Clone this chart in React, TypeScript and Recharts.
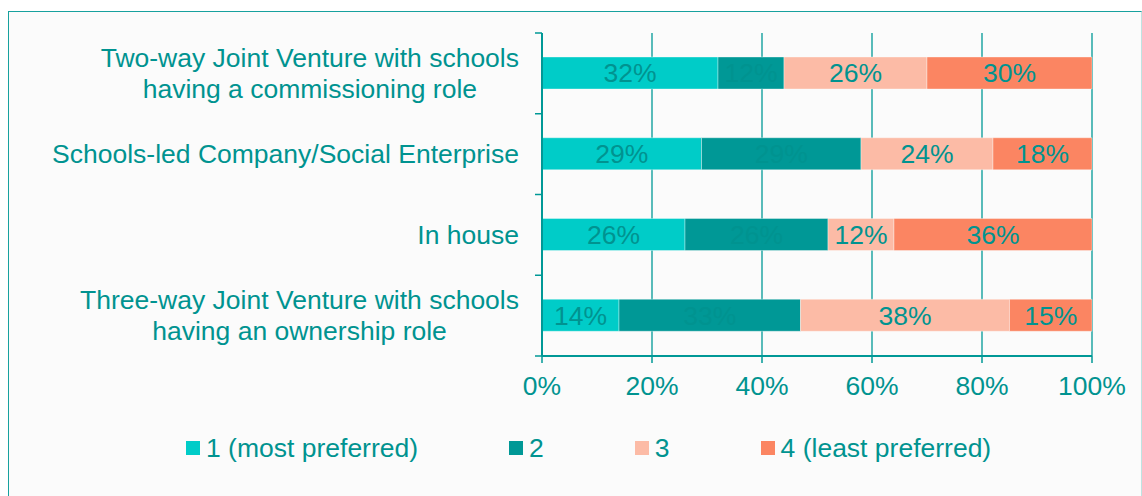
import React from "react";
import { BarChart, Bar, XAxis, YAxis, CartesianGrid, Legend, LabelList } from "recharts";

const categories = [
  "Two-way Joint Venture with schools\nhaving a commissioning role",
  "Schools-led Company/Social Enterprise",
  "In house",
  "Three-way Joint Venture with schools\nhaving an ownership role",
];
const rank1 = [32, 29, 26, 14];
const rank2 = [12, 29, 26, 33];
const rank3 = [26, 24, 12, 38];
const rank4 = [30, 18, 36, 15];
const seriesNames = ["1 (most preferred)", "2", "3", "4 (least preferred)"];
const xTicks = [0, 20, 40, 60, 80, 100];

const COLORS = ["#00ccc8", "#009896", "#fcbba6", "#fb8562"];
const TEAL = "#009390";
const AXIS = "#009896";
const FONT = '"Liberation Sans", Arial, sans-serif';
const FONT_SIZE = 26.5;

const WIDTH = 1142;
const HEIGHT = 496;
const MARGIN = { top: 33, right: 50, left: 0, bottom: 18 };
const X_AXIS_H = 62;
const LEGEND_H = 60;
const TICK = 7;
const PLOT_H = HEIGHT - MARGIN.top - MARGIN.bottom - X_AXIS_H - LEGEND_H;
const BAND = PLOT_H / categories.length;

const data = categories.map((name, i) => ({
  name,
  r1: rank1[i],
  r2: rank2[i],
  r3: rank3[i],
  r4: rank4[i],
}));

let ctx: CanvasRenderingContext2D | null = null;
function textWidth(s: string) {
  if (!ctx) {
    ctx = document.createElement("canvas").getContext("2d");
  }
  if (!ctx) return s.length * 13;
  ctx.font = `${FONT_SIZE}px "Liberation Sans"`;
  return ctx.measureText(s).width;
}

// multi-line labels: lines centred on each other, block right-aligned
// also draws the category boundary tick marks (Excel style)
function CategoryTick({ x, y, payload, index }: any) {
  const lines: string[] = String(payload.value).split("\n");
  const axisX = x + TICK + 2;
  const right = x - 14;
  const widest = Math.max(...lines.map(textWidth));
  const lh = 31;
  const y0 = y - ((lines.length - 1) * lh) / 2;
  const edges = [y - BAND / 2];
  if (index === categories.length - 1) edges.push(y + BAND / 2);
  return (
    <g>
      {edges.map((ey) => (
        <line key={ey} x1={axisX - TICK} x2={axisX} y1={ey} y2={ey} stroke={AXIS} strokeWidth={1.5} />
      ))}
      {lines.map((l, i) => (
        <text
          key={i}
          x={lines.length > 1 ? right - widest / 2 : right}
          y={y0 + i * lh}
          dy="0.35em"
          textAnchor={lines.length > 1 ? "middle" : "end"}
          fill={TEAL}
          fontSize={FONT_SIZE}
          fontFamily={FONT}
        >
          {l}
        </text>
      ))}
    </g>
  );
}

function LegendContent() {
  return (
    <div style={{ display: "flex", alignItems: "center", height: LEGEND_H, paddingLeft: 186, fontFamily: FONT }}>
      {seriesNames.map((n, i) => (
        <div key={n} style={{ display: "flex", alignItems: "center", marginRight: 91 }}>
          <span style={{ width: 14, height: 14, background: COLORS[i], display: "inline-block", marginRight: 6 }} />
          <span style={{ color: TEAL, fontSize: FONT_SIZE, lineHeight: "30px" }}>{n}</span>
        </div>
      ))}
    </div>
  );
}

export default function App() {
  const keys = ["r1", "r2", "r3", "r4"];
  return (
    <div style={{ position: "fixed", left: 0, top: 0, width: WIDTH, height: HEIGHT, background: "#ffffff", overflow: "hidden", fontFamily: FONT }}>
      <div
        style={{
          position: "absolute",
          left: 8,
          top: 11,
          width: 1134,
          height: 485,
          boxSizing: "border-box",
          background: "#fbfbfb",
          borderTop: "1.5px solid #17a19e",
          borderLeft: "1.5px solid #17a19e",
          borderRight: "1px solid #bfe3e2",
        }}
      />
      <div style={{ position: "absolute", left: 0, top: 0 }}>
        <BarChart
          width={WIDTH}
          height={HEIGHT}
          data={data}
          layout="vertical"
          margin={MARGIN}
          barCategoryGap={0}
        >
          <CartesianGrid horizontal={false} stroke={AXIS} strokeWidth={1.3} />
          <XAxis
            type="number"
            domain={[0, 100]}
            ticks={xTicks}
            tickFormatter={(v) => `${v}%`}
            height={X_AXIS_H}
            tick={{ fill: TEAL, fontSize: FONT_SIZE, fontFamily: FONT }}
            tickSize={TICK}
            tickMargin={13}
            axisLine={{ stroke: AXIS, strokeWidth: 2 }}
            tickLine={{ stroke: AXIS, strokeWidth: 1.5 }}
          />
          <YAxis
            type="category"
            dataKey="name"
            width={542}
            interval={0}
            axisLine={{ stroke: AXIS, strokeWidth: 2 }}
            tickLine={false}
            tickSize={TICK}
            tick={<CategoryTick />}
          />
          <Legend verticalAlign="bottom" align="left" height={LEGEND_H} content={<LegendContent />} />
          {keys.map((k, i) => (
            <Bar
              key={k}
              dataKey={k}
              name={seriesNames[i]}
              stackId="a"
              fill={COLORS[i]}
              barSize={32}
              stroke="#ffffff"
              strokeOpacity={0.45}
              strokeWidth={0.8}
              isAnimationActive={false}
            >
              <LabelList
                dataKey={k}
                position="center"
                formatter={(v: any) => `${v}%`}
                fill={TEAL}
                fontSize={FONT_SIZE}
                fontFamily={FONT}
              />
            </Bar>
          ))}
        </BarChart>
      </div>
    </div>
  );
}
